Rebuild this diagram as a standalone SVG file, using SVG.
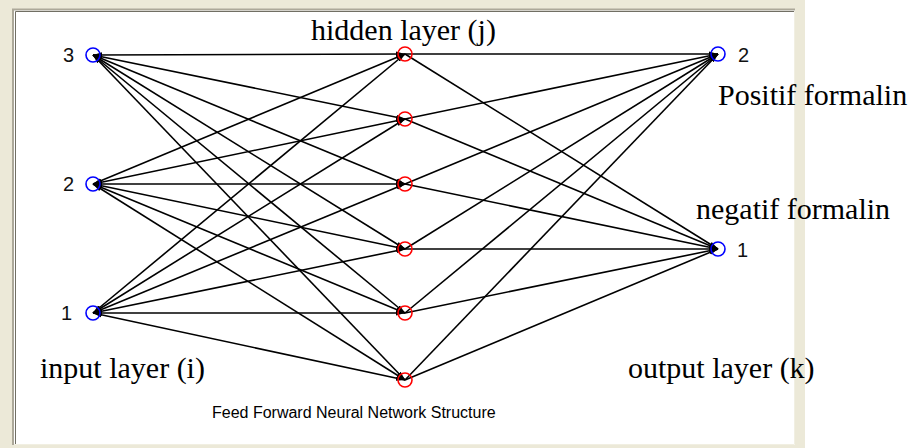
<svg xmlns="http://www.w3.org/2000/svg" width="912" height="448" viewBox="0 0 912 448">
<style>
.frame{fill:#ece9d8}
.in{fill:none;stroke:#0000ff;stroke-width:1.6}
.hid{fill:none;stroke:#ff0000;stroke-width:1.6}
.out{fill:none;stroke:#0000ff;stroke-width:1.6}
.c{stroke:#000;stroke-width:1.6;fill:none}
.ih{marker-start:url(#tip);marker-end:url(#tip)}
.ho{marker-end:url(#tip)}
.num{font-family:"Liberation Sans",Arial,sans-serif;font-size:20px;fill:#111}
.lbl{font-family:"Liberation Serif","Times New Roman",serif;font-size:30px;fill:#000}
.title{font-family:"Liberation Sans",Arial,sans-serif;font-size:16px;fill:#000}
</style>
<defs>
<marker id="tip" viewBox="0 -3 9 6" refX="9" refY="0" markerWidth="9" markerHeight="6" markerUnits="userSpaceOnUse" orient="auto-start-reverse">
<path d="M0,-2.6 L9,0 L0,2.6 Z" fill="#000"/>
</marker>
</defs>
<rect x="0" y="0" width="912" height="448" fill="#ffffff"/>
<rect class="frame" x="0" y="0" width="805" height="448"/>
<rect x="14" y="10" width="781" height="435" fill="#ffffff"/>
<path d="M13,445 V9.5 H795" fill="none" stroke="#aca899" stroke-width="2"/>
<path d="M15.5,444 V11.5 H794" fill="none" stroke="#716f64" stroke-width="1"/>
<path d="M794.5,11 V444.5 H14" fill="none" stroke="#f1efe2" stroke-width="1"/>

<g id="connectors">
<g class="c ih">
<line x1="93" y1="55" x2="405" y2="54"/>
<line x1="93" y1="55" x2="405" y2="119"/>
<line x1="93" y1="55" x2="405" y2="184"/>
<line x1="93" y1="55" x2="405" y2="249"/>
<line x1="93" y1="55" x2="405" y2="313"/>
<line x1="93" y1="55" x2="405" y2="380"/>
<line x1="93" y1="184" x2="405" y2="54"/>
<line x1="93" y1="184" x2="405" y2="119"/>
<line x1="93" y1="184" x2="405" y2="184"/>
<line x1="93" y1="184" x2="405" y2="249"/>
<line x1="93" y1="184" x2="405" y2="313"/>
<line x1="93" y1="184" x2="405" y2="380"/>
<line x1="93" y1="313" x2="405" y2="54"/>
<line x1="93" y1="313" x2="405" y2="119"/>
<line x1="93" y1="313" x2="405" y2="184"/>
<line x1="93" y1="313" x2="405" y2="249"/>
<line x1="93" y1="313" x2="405" y2="313"/>
<line x1="93" y1="313" x2="405" y2="380"/>
</g>
<g class="c ho">
<line x1="405" y1="54" x2="718" y2="54"/>
<line x1="405" y1="119" x2="718" y2="54"/>
<line x1="405" y1="184" x2="718" y2="54"/>
<line x1="405" y1="249" x2="718" y2="54"/>
<line x1="405" y1="313" x2="718" y2="54"/>
<line x1="405" y1="380" x2="718" y2="54"/>
<line x1="405" y1="54" x2="718" y2="249"/>
<line x1="405" y1="119" x2="718" y2="249"/>
<line x1="405" y1="184" x2="718" y2="249"/>
<line x1="405" y1="249" x2="718" y2="249"/>
<line x1="405" y1="313" x2="718" y2="249"/>
<line x1="405" y1="380" x2="718" y2="249"/>
</g>
</g>

<g id="input3"><circle class="in" cx="93" cy="55" r="7"/><text class="num" x="74" y="62" text-anchor="end">3</text></g>
<g id="input2"><circle class="in" cx="93" cy="184" r="7"/><text class="num" x="74" y="191" text-anchor="end">2</text></g>
<g id="input1"><circle class="in" cx="93" cy="313" r="7"/><text class="num" x="72" y="320" text-anchor="end">1</text></g>

<g id="hidden1"><circle class="hid" cx="405" cy="54" r="7"/></g>
<g id="hidden2"><circle class="hid" cx="405" cy="119" r="7"/></g>
<g id="hidden3"><circle class="hid" cx="405" cy="184" r="7"/></g>
<g id="hidden4"><circle class="hid" cx="405" cy="249" r="7"/></g>
<g id="hidden5"><circle class="hid" cx="405" cy="313" r="7"/></g>
<g id="hidden6"><circle class="hid" cx="405" cy="380" r="7"/></g>

<g id="output2"><circle class="out" cx="718" cy="54" r="7"/><text class="num" x="738" y="62">2</text></g>
<g id="output1"><circle class="out" cx="718" cy="249" r="7"/><text class="num" x="737" y="257">1</text></g>

<g id="labels">
<text class="lbl" x="311" y="40">hidden layer (j)</text>
<text class="lbl" x="718" y="105">Positif formalin</text>
<text class="lbl" x="696" y="219">negatif formalin</text>
<text class="lbl" x="40" y="378">input layer (i)</text>
<text class="lbl" x="628" y="378">output layer (k)</text>
<text class="title" x="212" y="418">Feed Forward Neural Network Structure</text>
</g>
</svg>
